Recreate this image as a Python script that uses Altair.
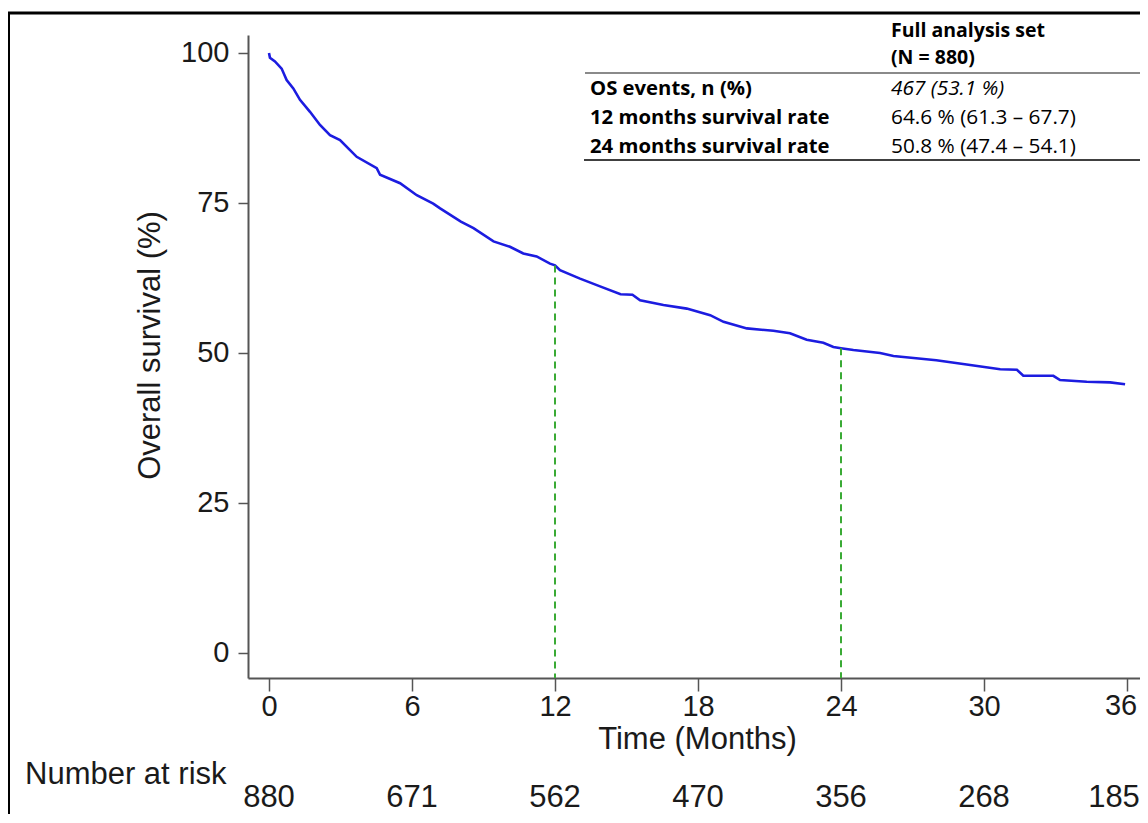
import altair as alt
import pandas as pd

# ---- data ----
time_months = [0, 0.04, 0.25, 0.53, 0.74, 1.02, 1.30, 1.72, 2.14, 2.56, 2.98, 3.40, 3.68,
               4.52, 4.66, 5.50, 6.20, 6.89, 7.18, 8.05, 8.58, 9.42, 10.11, 10.67, 11.23,
               11.79, 12.0, 12.21, 13.05, 13.89, 14.75, 15.25, 15.57, 16.55, 17.53, 18.51,
               19.07, 20.05, 21.16, 21.86, 22.56, 23.26, 23.68, 24.0, 24.52, 25.64, 26.2,
               28.0, 29.42, 30.68, 31.38, 31.65, 32.91, 33.19, 34.31, 35.29, 35.92]
survival_pct = [100, 99.2, 98.6, 97.4, 95.5, 94.1, 92.2, 90.2, 88.0, 86.3, 85.5, 83.8, 82.7,
                80.8, 79.7, 78.3, 76.3, 74.9, 74.1, 71.9, 70.8, 68.6, 67.7, 66.6, 66.1,
                64.9, 64.6, 63.8, 62.4, 61.1, 59.8, 59.7, 58.8, 58.0, 57.4, 56.3,
                55.2, 54.1, 53.7, 53.3, 52.2, 51.7, 51.0, 50.8, 50.5, 50.0, 49.5,
                48.8, 48.0, 47.3, 47.2, 46.2, 46.2, 45.5, 45.2, 45.1, 44.8]

ref_times = [12, 24]
ref_surv = [64.6, 50.8]

risk_times = [0, 6, 12, 18, 24, 30, 36]
risk_counts = [880, 671, 562, 470, 356, 268, 185]

x_tick_values = [0, 6, 12, 18, 24, 30, 36]
last_x_tick = [36]
y_tick_values = [0, 25, 50, 75, 100]

table_header = ["Full analysis set", "(N = 880)"]
table_labels = ["OS events, n (%)", "12 months survival rate", "24 months survival rate"]
table_values = ["467 (53.1 %)", "64.6 % (61.3 \u2013 67.7)", "50.8 % (47.4 \u2013 54.1)"]

# ---- layout ----
W, H = 892, 643
PX_PER_MONTH = 858 / 36.0
XMIN = -21 / PX_PER_MONTH
XMAX = (W - 21) / PX_PER_MONTH
YMIN, YMAX = -4.1667, 103.0
AX_FONT = "Liberation Sans"
TB_FONT = "Open Sans"
FS = 29      # tick labels
TFS_T = 31   # titles and risk table

km = pd.DataFrame({"t": time_months, "s": survival_pct})
refs = pd.DataFrame({"t": ref_times, "s": ref_surv})
risk = pd.DataFrame({"t": risk_times, "n": [str(v) for v in risk_counts]})
last_tick = pd.DataFrame({"t": last_x_tick, "lab": [str(v) for v in last_x_tick]})
one = pd.DataFrame({"k": [0]})

xscale = alt.Scale(domain=[XMIN, XMAX], nice=False, zero=False)
yscale = alt.Scale(domain=[YMIN, YMAX], nice=False, zero=False)

x_axis = alt.Axis(values=x_tick_values, title="Time (Months)", grid=False,
                  domainColor="#555555", domainWidth=2, tickColor="#555555", tickWidth=1.5,
                  tickSize=13, labelFont=AX_FONT, labelFontSize=FS, labelColor="#1a1a1a",
                  labelBaseline="alphabetic", labelPadding=24, labelFlush=False,
                  labelExpr="datum.value == 36 ? '' : datum.label",
                  titleFont=AX_FONT, titleFontSize=TFS_T, titleFontWeight="normal",
                  titleColor="#1a1a1a", titleX=449, titleY=70, titleBaseline="alphabetic",
                  titleAlign="center")
y_axis = alt.Axis(values=y_tick_values, title="Overall survival (%)", grid=False,
                  domainColor="#555555", domainWidth=2, tickColor="#555555", tickWidth=1.5,
                  tickSize=10, labelFont=AX_FONT, labelFontSize=FS, labelColor="#1a1a1a",
                  labelPadding=9, labelBaseline="middle", labelFlush=False,
                  titleFont=AX_FONT, titleFontSize=TFS_T, titleFontWeight="normal",
                  titleColor="#1a1a1a", titleX=-98, titleY=310, titleBaseline="middle",
                  titleAlign="center", titleAngle=270)

curve = alt.Chart(km).mark_line(color="#1c1ce0", strokeWidth=2.6, clip=True).encode(
    x=alt.X("t:Q", scale=xscale, axis=x_axis),
    y=alt.Y("s:Q", scale=yscale, axis=y_axis),
)

dashes = alt.Chart(refs).mark_rule(color="#3aaa35", strokeWidth=2, strokeDash=[7, 5]).encode(
    x=alt.X("t:Q", scale=xscale),
    y=alt.Y("s:Q", scale=yscale),
    y2=alt.value(H),
)

# last x tick label, nudged left so it stays inside the page
last_label = alt.Chart(last_tick).mark_text(font=AX_FONT, fontSize=FS, color="#1a1a1a",
                                            align="center", baseline="alphabetic",
                                            dx=-6).encode(
    x=alt.X("t:Q", scale=xscale),
    y=alt.value(H + 13 + 24),
    text="lab:N",
)

risk_text = alt.Chart(risk).transform_filter("datum.t < 36").mark_text(
    font=AX_FONT, fontSize=TFS_T, color="#1a1a1a",
    align="center", baseline="alphabetic").encode(
    x=alt.X("t:Q", scale=xscale),
    y=alt.value(772),
    text="n:N",
)
risk_last = alt.Chart(risk).transform_filter("datum.t >= 36").mark_text(
    font=AX_FONT, fontSize=TFS_T, color="#1a1a1a",
    align="center", baseline="alphabetic", dx=-13).encode(
    x=alt.X("t:Q", scale=xscale),
    y=alt.value(772),
    text="n:N",
)

risk_title = alt.Chart(one).mark_text(font=AX_FONT, fontSize=TFS_T, color="#1a1a1a",
                                      align="left", baseline="alphabetic",
                                      text="Number at risk").encode(
    x=alt.value(-223), y=alt.value(749))

layers = [curve, dashes, last_label, risk_text, risk_last, risk_title]

# frame (top and left border)
layers.append(alt.Chart(one).mark_rule(color="black", strokeWidth=3).encode(
    x=alt.value(-239.5), y=alt.value(-22), y2=alt.value(800)))
layers.append(alt.Chart(one).mark_rule(color="black", strokeWidth=3).encode(
    x=alt.value(-241), x2=alt.value(W), y=alt.value(-22)))

# table rules
layers.append(alt.Chart(one).mark_rule(color="#8a8a8a", strokeWidth=2).encode(
    x=alt.value(337), x2=alt.value(W), y=alt.value(38)))
layers.append(alt.Chart(one).mark_rule(color="black", strokeWidth=1.5).encode(
    x=alt.value(336), x2=alt.value(W), y=alt.value(125)))

TB_HEAD = 19.5
TB_BOLD = 20.3
TB_REG = 20.8
LX, RX = 342, 643
header_y = [2, 28.5]
row_y = [59.5, 89, 118]
for txt, yy in zip(table_header, header_y):
    layers.append(alt.Chart(one).mark_text(font=TB_FONT, fontSize=TB_HEAD, fontWeight="bold",
                                           color="black", align="left", baseline="alphabetic",
                                           text=txt).encode(x=alt.value(RX), y=alt.value(yy)))
for i, (lab, val, yy) in enumerate(zip(table_labels, table_values, row_y)):
    layers.append(alt.Chart(one).mark_text(font=TB_FONT, fontSize=TB_BOLD, fontWeight="bold",
                                           color="black", align="left", baseline="alphabetic",
                                           text=lab).encode(x=alt.value(LX), y=alt.value(yy)))
    layers.append(alt.Chart(one).mark_text(font=TB_FONT, fontSize=TB_REG,
                                           fontStyle="italic" if i == 0 else "normal",
                                           color="black", align="left", baseline="alphabetic",
                                           text=val).encode(x=alt.value(RX), y=alt.value(yy)))

chart = alt.layer(*layers).properties(
    width=W, height=H,
    autosize=alt.AutoSizeParams(type="none"),
    padding={"left": 240, "top": 27, "right": 0, "bottom": 136},
    background="white",
).configure_view(stroke=None)

chart.save("out.html", embed_options={"renderer": "svg", "actions": False})
